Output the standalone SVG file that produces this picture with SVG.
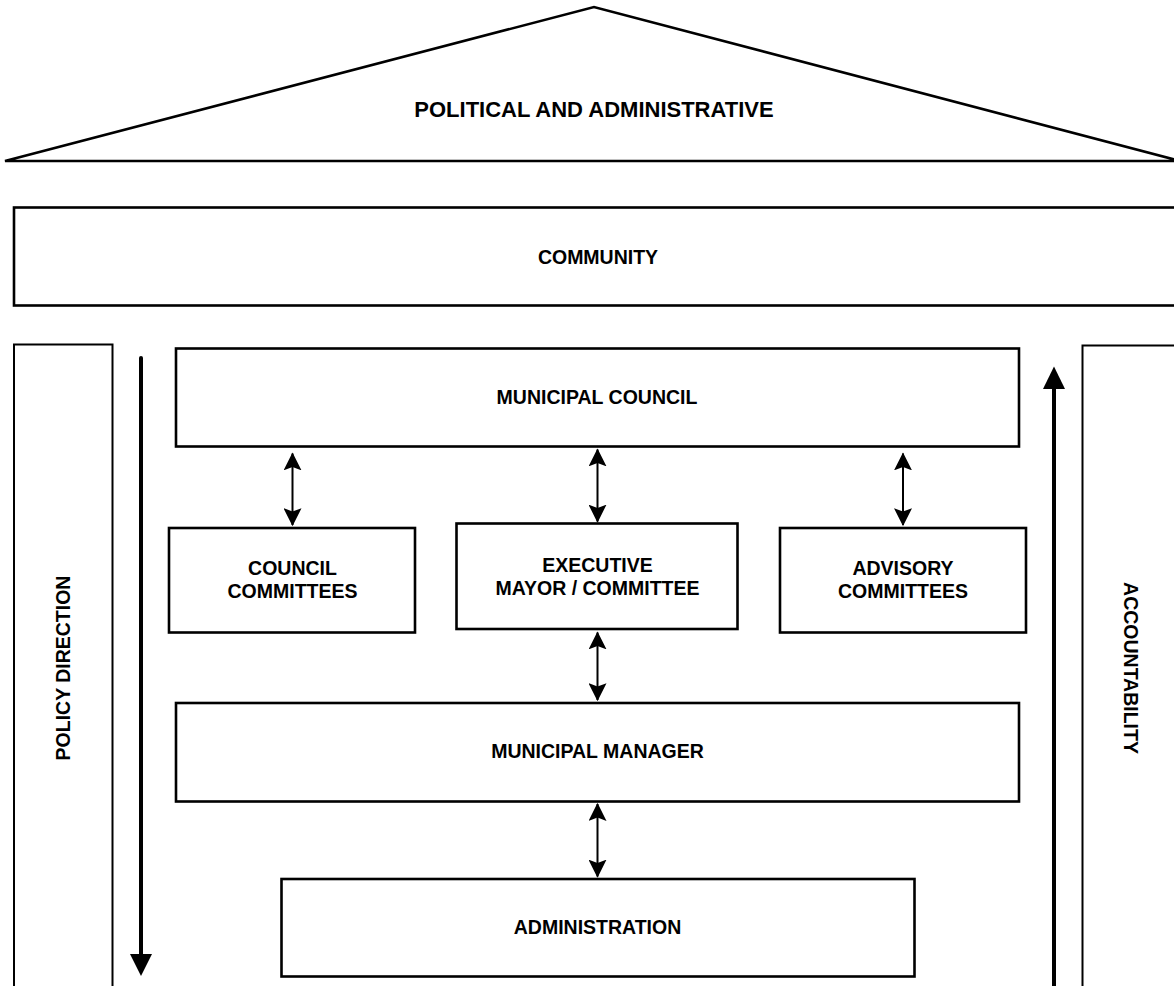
<svg xmlns="http://www.w3.org/2000/svg" width="1174" height="986" viewBox="0 0 1174 986">
<style>
.box{fill:#fff;stroke:#000;stroke-width:2.6}
.pillar{fill:#fff;stroke:#000;stroke-width:2}
.t{font-family:"Liberation Sans",Arial,sans-serif;font-weight:bold;font-size:19.5px;fill:#000;text-anchor:middle}
.link{stroke:#000;stroke-width:2;fill:none;marker-start:url(#hs);marker-end:url(#he)}
.big{stroke:#000;stroke-width:4;fill:none}
</style>
<defs>
<marker id="he" markerUnits="userSpaceOnUse" markerWidth="18" markerHeight="18" viewBox="0 0 16 16" refX="15" refY="8" orient="auto">
<path d="M0,0 L16,8 L0,16 L3,8 Z" fill="#000"/>
</marker>
<marker id="hs" markerUnits="userSpaceOnUse" markerWidth="18" markerHeight="18" viewBox="0 0 16 16" refX="1" refY="8" orient="auto">
<path d="M16,0 L0,8 L16,16 L13,8 Z" fill="#000"/>
</marker>
</defs>
<rect width="1174" height="986" fill="#fff"/>
<g id="roof">
<polygon points="5,161 594,7 1180,161" fill="#fff" stroke="#000" stroke-width="2.6" stroke-linejoin="miter"/>
<text class="t" x="594" y="117" style="font-size:22px">POLITICAL AND ADMINISTRATIVE</text>
</g>
<g id="community">
<rect class="box" x="14" y="207.5" width="1170" height="98"/>
<text class="t" x="598" y="264">COMMUNITY</text>
</g>
<g id="policy-direction">
<rect class="pillar" x="14" y="344.5" width="98.5" height="660"/>
<text class="t" transform="translate(70,668) rotate(-90)">POLICY DIRECTION</text>
</g>
<g id="accountability">
<rect class="pillar" x="1082.5" y="345.5" width="100" height="660"/>
<text class="t" transform="translate(1124,668) rotate(90)">ACCOUNTABILITY</text>
</g>
<g id="municipal-council">
<rect class="box" x="176" y="348.5" width="843" height="98"/>
<text class="t" x="597" y="404">MUNICIPAL COUNCIL</text>
</g>
<g id="council-committees">
<rect class="box" x="169" y="528" width="246" height="104.5"/>
<text class="t" x="292.5" y="575">COUNCIL</text>
<text class="t" x="292.5" y="598">COMMITTEES</text>
</g>
<g id="executive">
<rect class="box" x="456.5" y="523.5" width="281" height="105.5"/>
<text class="t" x="597.5" y="572">EXECUTIVE</text>
<text class="t" x="597.5" y="595">MAYOR / COMMITTEE</text>
</g>
<g id="advisory-committees">
<rect class="box" x="780" y="528" width="246" height="104.5"/>
<text class="t" x="903" y="575">ADVISORY</text>
<text class="t" x="903" y="598">COMMITTEES</text>
</g>
<g id="municipal-manager">
<rect class="box" x="176" y="703" width="843" height="98.5"/>
<text class="t" x="597.5" y="758">MUNICIPAL MANAGER</text>
</g>
<g id="administration">
<rect class="box" x="281.5" y="879" width="633" height="97.5"/>
<text class="t" x="597.5" y="934">ADMINISTRATION</text>
</g>
<g id="connectors">
<line class="link" x1="292.5" y1="453.5" x2="292.5" y2="525"/>
<line class="link" x1="597.5" y1="449.5" x2="597.5" y2="521.5"/>
<line class="link" x1="903" y1="453.5" x2="903" y2="525"/>
<line class="link" x1="597.5" y1="632.5" x2="597.5" y2="700"/>
<line class="link" x1="597.5" y1="804" x2="597.5" y2="876.5"/>
<line class="big" x1="141" y1="358" x2="141" y2="956" stroke-linecap="round"/>
<polygon points="130,954 152,954 141,976" fill="#000"/>
<line class="big" x1="1054" y1="388" x2="1054" y2="990"/>
<polygon points="1043,389 1065,389 1054,366.5" fill="#000"/>
</g>
</svg>
